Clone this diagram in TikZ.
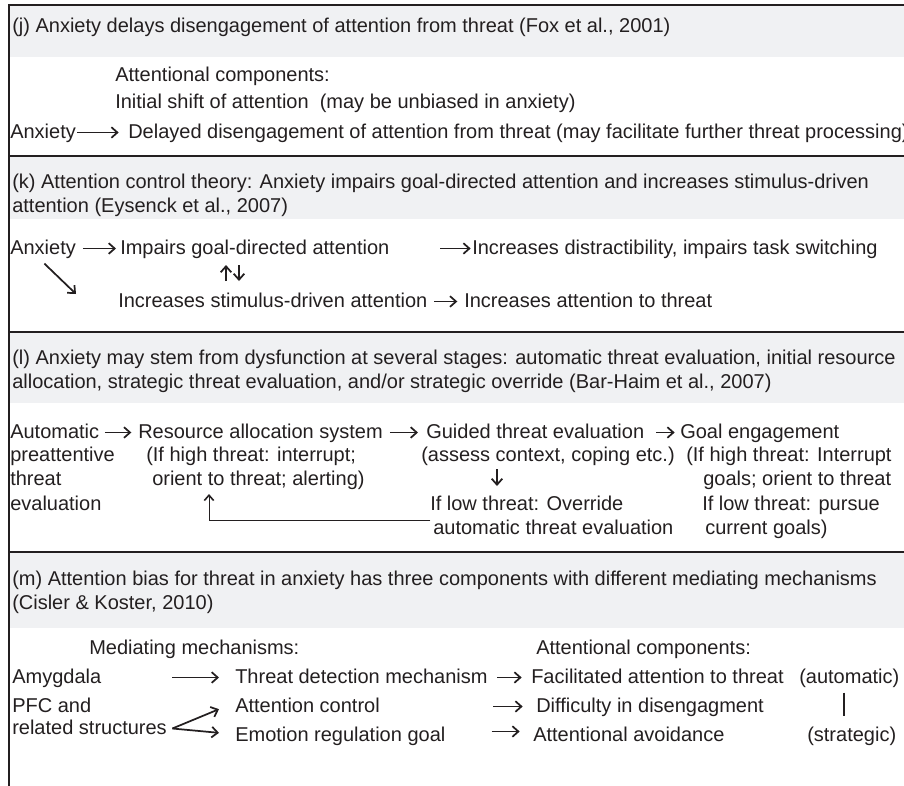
\documentclass[tikz,border=0pt]{standalone}
\usepackage{fontspec}
\setmainfont{Liberation Sans}
\usetikzlibrary{arrows.meta}
\definecolor{ink}{RGB}{35,31,32}
\definecolor{band}{RGB}{240,241,243}
\tikzset{
  txt/.style={anchor=base west, inner sep=0pt, text height=11.25pt, text depth=3pt,
    text=ink, font=\fontsize{15}{18}\selectfont},
  arr/.style={draw=ink, line width=1.3pt, -{Straight Barb[length=4.5pt,width=8pt]}},
  fine/.style={draw=ink, line width=0.6pt, -{Straight Barb[length=4pt,width=7pt,line width=1.2pt]}},
  rule/.style={draw=ink, line width=1.5pt},
}
\begin{document}
\begin{tikzpicture}[x=0.75pt,y=-0.75pt]
\useasboundingbox (0,0) rectangle (904,786);
% header bands
\fill[band] (9,5) rectangle (904,57);
\fill[band] (9,156) rectangle (904,219);
\fill[band] (9,332) rectangle (904,403);
\fill[band] (9,552) rectangle (904,628);
% frame and separators
\draw[rule] (9,786) -- (9,5) -- (904,5);
\draw[rule] (9,156) -- (904,156);
\draw[rule] (9,332) -- (904,332);
\draw[rule] (9,552) -- (904,552);

% (j)
\node[txt] (hdrj) at (12,32) {(j) Anxiety delays disengagement of attention from threat (Fox et al., 2001)};
\node[txt] (compj) at (115,81) {Attentional components:};
\node[txt] (shiftj) at (115,108) {Initial shift of attention\ \ (may be unbiased in anxiety)};
\node[txt] (anxj) at (10,138) {Anxiety};
\node[txt] (delayj) at (128,138) {Delayed disengagement of attention from threat (may facilitate further threat processing)};
\draw[arr] ([xshift=1pt]anxj.east) -- ([xshift=-7pt]delayj.west);

% (k)
\node[txt] (hdrk1) at (12,188) {(k) Attention control theory: Anxiety impairs goal-directed attention and increases stimulus-driven};
\node[txt] (hdrk2) at (12,212) {attention (Eysenck et al., 2007)};
\node[txt] (anxk) at (10,254) {Anxiety};
\node[txt] (impk) at (120,254) {Impairs goal-directed attention};
\node[txt] (distk) at (472,254) {Increases distractibility, impairs task switching};
\node[txt] (stimk) at (118,307) {Increases stimulus-driven attention};
\node[txt] (threatk) at (464,307) {Increases attention to threat};
\draw[arr] ([xshift=5pt]anxk.east) -- ([xshift=-3pt]impk.west);
\draw[arr] ([xshift=-24pt]distk.west) -- ([xshift=-1pt]distk.west);
\draw[arr] ([xshift=5pt]stimk.east) -- ([xshift=-5pt]threatk.west);
\coordinate (dtip) at (76,294);
\draw[arr] ([xshift=1pt,yshift=-4pt]anxk.south) -- (dtip);
\coordinate (upa) at (226,281);
\coordinate (upb) at (226,265);
\coordinate (dna) at (239,265);
\coordinate (dnb) at (239,281);
\draw[arr] (upa) -- (upb);
\draw[arr] (dna) -- (dnb);

% (l)
\node[txt] (hdrl1) at (12,364) {(l) Anxiety may stem from dysfunction at several stages: automatic threat evaluation, initial resource};
\node[txt] (hdrl2) at (12,388) {allocation, strategic threat evaluation, and/or strategic override (Bar-Haim et al., 2007)};
\node[txt] (autol) at (10,438) {Automatic};
\node[txt] (preatl) at (10,461) {preattentive};
\node[txt] (threatl) at (10,485) {threat};
\node[txt] (evall) at (10,510) {evaluation};
\node[txt] (resl) at (138,438) {Resource allocation system};
\node[txt] (ifhl) at (146,461) {(If high threat: interrupt;};
\node[txt] (orientl) at (152,485) {orient to threat; alerting)};
\node[txt] (guidl) at (426,438) {Guided threat evaluation};
\node[txt] (assl) at (421,461) {(assess context, coping etc.)};
\node[txt] (ovr1) at (430,510) {If low threat: Override};
\node[txt] (ovr2) at (433,534) {automatic threat evaluation};
\node[txt] (goall) at (680,438) {Goal engagement};
\node[txt] (ifh2) at (686,461) {(If high threat: Interrupt};
\node[txt] (goals) at (703,485) {goals; orient to threat};
\node[txt] (ifl) at (702,510) {If low threat: pursue};
\node[txt] (curr) at (705,534) {current goals)};
\draw[arr] ([xshift=4pt]autol.east) -- ([xshift=-5pt]resl.west);
\draw[arr] ([xshift=5pt]resl.east) -- ([xshift=-6pt]guidl.west);
\draw[arr] ([xshift=9pt]guidl.east) -- ([xshift=-4pt]goall.west);
\coordinate (dn1) at (497,469);
\coordinate (dn2) at (497,486);
\draw[arr] (dn1) -- (dn2);
\coordinate (fbtip) at (209,494);
\draw[fine] ([xshift=-2pt,yshift=6pt]ovr2.west) -| (fbtip);

% (m)
\node[txt] (hdrm1) at (12,585) {(m) Attention bias for threat in anxiety has three components with different mediating mechanisms};
\node[txt] (hdrm2) at (12,609) {(Cisler \& Koster, 2010)};
\node[txt] (mech) at (89,654) {Mediating mechanisms:};
\node[txt] (attc) at (536,654) {Attentional components:};
\node[txt] (amyg) at (12,683) {Amygdala};
\node[txt] (tdm) at (235,683) {Threat detection mechanism};
\node[txt] (fac) at (531,683) {Facilitated attention to threat};
\node[txt] (auto) at (799,683) {(automatic)};
\node[txt] (pfc) at (12,712) {PFC and};
\node[txt] (ac) at (235,712) {Attention control};
\node[txt] (diff) at (536,712) {Difficulty in disengagment};
\node[txt] (rel) at (12,734) {related structures};
\node[txt] (erg) at (235,741) {Emotion regulation goal};
\node[txt] (avoid) at (533,741) {Attentional avoidance};
\node[txt] (strat) at (807,741) {(strategic)};
\draw[arr] ([xshift=-47pt]tdm.west) -- ([xshift=-12pt]tdm.west);
\draw[arr] ([xshift=7pt]tdm.east) -- ([xshift=-7pt]fac.west);
\draw[arr] ([xshift=4pt]rel.east) -- ([xshift=-12pt,yshift=-2pt]ac.west);
\draw[arr] ([xshift=4pt]rel.east) -- ([xshift=-12pt,yshift=2pt]erg.west);
\draw[arr] ([xshift=-32pt]diff.west) -- ([xshift=-10pt]diff.west);
\draw[arr] ([xshift=-31pt,yshift=3pt]avoid.west) -- ([xshift=-10pt,yshift=3pt]avoid.west);
\draw[draw=ink, line width=1pt] ([xshift=-4pt,yshift=-4pt]auto.south) -- ([xshift=-4pt,yshift=7pt]auto.south |- strat.north);
\end{tikzpicture}
\end{document}
